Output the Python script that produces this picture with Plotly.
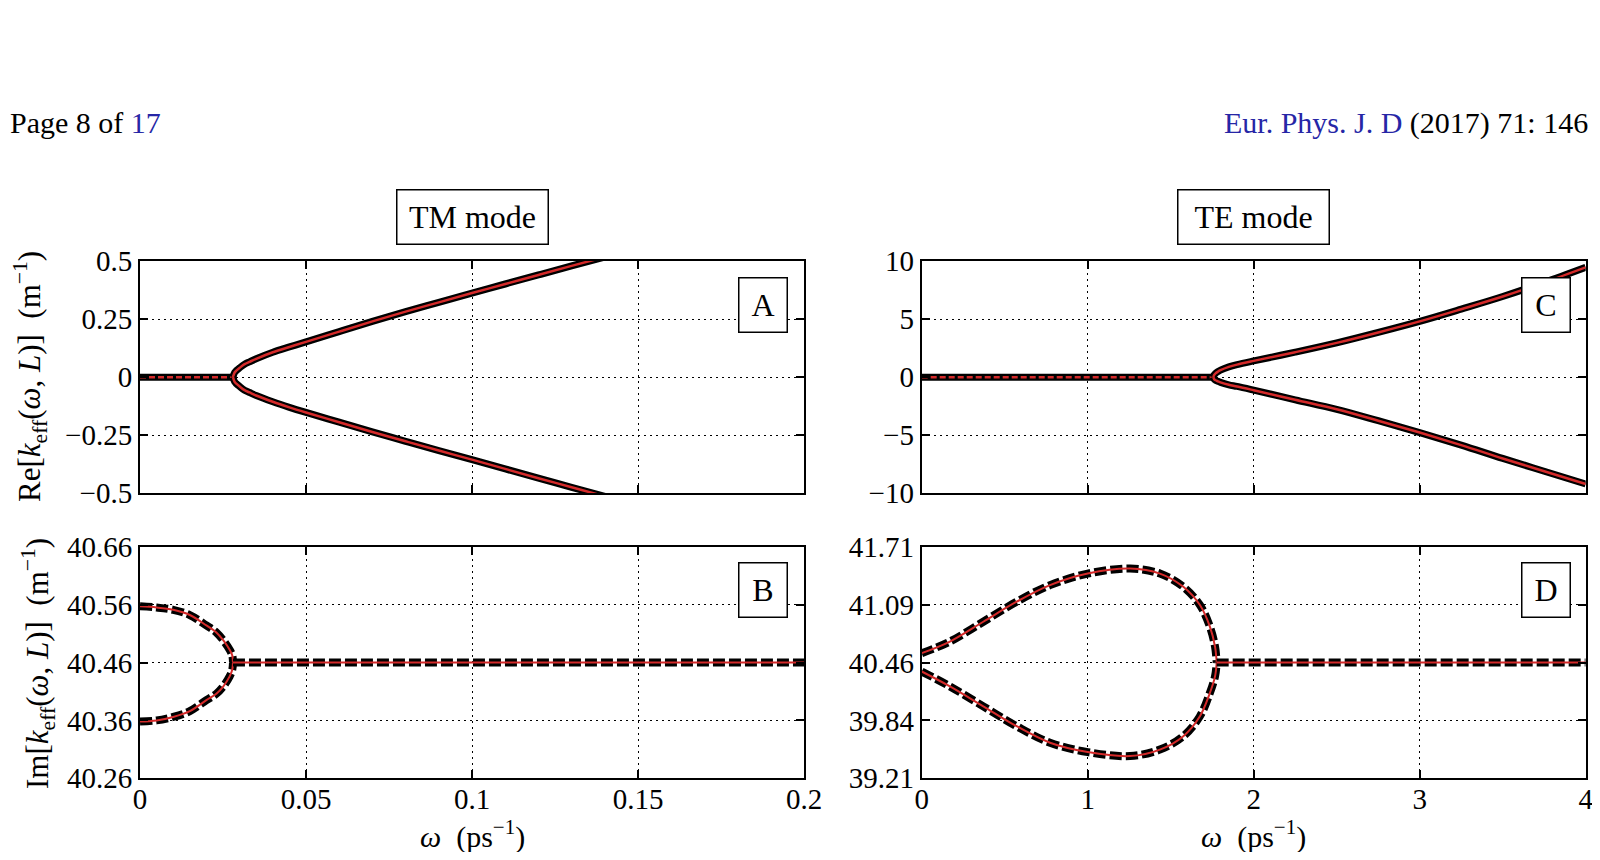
import plotly.graph_objects as go

# ---- data ----
# TM mode, panel A: Re[k_eff] (branches start at the split point)
tm_split = 0.028
tm_flat_w = [0.0, tm_split]
tm_flat_re = [0.0, 0.0]
tm_re_w = [0.028, 0.0285, 0.029, 0.030, 0.0315, 0.033, 0.035, 0.040, 0.045, 0.050,
           0.060, 0.070, 0.080, 0.090, 0.100, 0.110, 0.120, 0.130, 0.140]
tm_re_up = [0.0, 0.020, 0.028, 0.040, 0.056, 0.066, 0.079, 0.107, 0.130, 0.152,
            0.196, 0.240, 0.282, 0.322, 0.362, 0.401, 0.440, 0.479, 0.517]
tm_re_lo = [0.0, -0.020, -0.028, -0.040, -0.056, -0.066, -0.079, -0.106, -0.130, -0.152,
            -0.194, -0.236, -0.276, -0.316, -0.355, -0.395, -0.435, -0.474, -0.513]

# TM mode, panel B: Im[k_eff]
tm_im_w = [0.0, 0.005, 0.010, 0.015, 0.020, 0.023, 0.025, 0.027, 0.0278, 0.028]
tm_im_up = [40.557, 40.555, 40.551, 40.542, 40.524, 40.512, 40.499, 40.482, 40.472, 40.46]
tm_im_lo = [40.358, 40.360, 40.366, 40.376, 40.395, 40.406, 40.418, 40.436, 40.448, 40.46]
tm_im_flat_w = [0.028, 0.2]
tm_im_flat = [40.46, 40.46]

# TE mode, panel C: Re[k_eff]
te_split = 1.757
te_flat_w = [0.0, te_split]
te_flat_re = [0.0, 0.0]
te_re_w = [1.757, 1.762, 1.77, 1.785, 1.80, 1.85, 1.90, 2.00, 2.25, 2.50,
           2.75, 3.00, 3.25, 3.50, 3.75, 4.00]
te_re_up = [0.0, 0.20, 0.33, 0.48, 0.60, 0.88, 1.08, 1.40, 2.15, 2.95,
            3.85, 4.80, 5.85, 6.94, 8.15, 9.45]
te_re_lo = [0.0, -0.18, -0.27, -0.36, -0.45, -0.66, -0.80, -1.12, -1.95, -2.77,
            -3.75, -4.77, -5.85, -7.00, -8.10, -9.20]

# TE mode, panel D: Im[k_eff]
te_im_w = [0.0, 0.170, 0.371, 0.572, 0.773, 1.000, 1.255, 1.435, 1.576, 1.676,
           1.736, 1.767, 1.777]
te_im_up = [40.561, 40.686, 40.900, 41.116, 41.295, 41.420, 41.474, 41.420, 41.277, 41.080,
            40.847, 40.632, 40.46]
te_im_lo = [40.363, 40.202, 39.987, 39.772, 39.594, 39.493, 39.450, 39.520, 39.665, 39.880,
            40.131, 40.310, 40.46]
te_im_flat_w = [1.777, 4.0]
te_im_flat = [40.46, 40.46]

# ticks
tm_xticks = [0, 0.05, 0.1, 0.15, 0.2]
tm_xtext = ["0", "0.05", "0.1", "0.15", "0.2"]
te_xticks = [0, 1, 2, 3, 4]
te_xtext = ["0", "1", "2", "3", "4"]
a_yticks = [-0.5, -0.25, 0, 0.25, 0.5]
a_ytext = ["\u22120.5", "\u22120.25", "0", "0.25", "0.5"]
b_yticks = [40.26, 40.36, 40.46, 40.56, 40.66]
b_ytext = ["40.26", "40.36", "40.46", "40.56", "40.66"]
c_yticks = [-10, -5, 0, 5, 10]
c_ytext = ["\u221210", "\u22125", "0", "5", "10"]
d_yticks = [39.21, 39.835, 40.46, 41.085, 41.71]
d_ytext = ["39.21", "39.84", "40.46", "41.09", "41.71"]

# page body has an 8px margin, so the figure is 16px smaller than the window
OFF = 8
W, H = 1600 - 2 * OFF, 860 - 2 * OFF
SERIF = "Liberation Serif, Times New Roman, serif"
RED = "#d42a2a"
BLUE = "#2626a6"


def fx(px):
    return (px - OFF) / W


def fy(py):
    return 1 - (py - OFF) / H


fig = go.Figure()


def solid_pair(x, y, ax, red_dash="solid", spline=True):
    shape = "spline" if spline else "linear"
    fig.add_trace(go.Scatter(x=x, y=y, mode="lines", xaxis="x" + ax, yaxis="y" + ax,
                             line=dict(color="black", width=7, shape=shape),
                             hoverinfo="skip", showlegend=False))
    fig.add_trace(go.Scatter(x=x, y=y, mode="lines", xaxis="x" + ax, yaxis="y" + ax,
                             line=dict(color=RED, width=2.5, dash=red_dash, shape=shape),
                             hoverinfo="skip", showlegend=False))


def dashed_pair(x, y, ax, spline=True):
    shape = "spline" if spline else "linear"
    fig.add_trace(go.Scatter(x=x, y=y, mode="lines", xaxis="x" + ax, yaxis="y" + ax,
                             line=dict(color="black", width=8, dash="12px,4px", shape=shape),
                             hoverinfo="skip", showlegend=False))
    fig.add_trace(go.Scatter(x=x, y=y, mode="lines", xaxis="x" + ax, yaxis="y" + ax,
                             line=dict(color=RED, width=2, shape=shape),
                             hoverinfo="skip", showlegend=False))


# panel A
solid_pair(tm_flat_w, tm_flat_re, "", red_dash="6px,3px", spline=False)
solid_pair(tm_re_w, tm_re_up, "")
solid_pair(tm_re_w, tm_re_lo, "")
# panel B
dashed_pair(tm_im_w, tm_im_up, "2")
dashed_pair(tm_im_w, tm_im_lo, "2")
dashed_pair(tm_im_flat_w, tm_im_flat, "2", spline=False)
# panel C
solid_pair(te_flat_w, te_flat_re, "3", red_dash="6px,3px", spline=False)
solid_pair(te_re_w, te_re_up, "3")
solid_pair(te_re_w, te_re_lo, "3")
# panel D
dashed_pair(te_im_w, te_im_up, "4")
dashed_pair(te_im_w, te_im_lo, "4")
dashed_pair(te_im_flat_w, te_im_flat, "4", spline=False)


def axis(domain, rng, vals, text, anchor, labels=True, standoff=0):
    return dict(domain=domain, range=rng, tickvals=vals, ticktext=text,
                showticklabels=labels, anchor=anchor, automargin=False,
                ticklabeloverflow="allow", ticklabelstandoff=standoff,
                ticks="inside", ticklen=8, tickwidth=1.5, tickcolor="black",
                showline=True, linecolor="black", linewidth=2, mirror="allticks",
                showgrid=True, gridcolor="black", gridwidth=1, griddash="2px,4px",
                zeroline=False, fixedrange=True,
                tickfont=dict(family=SERIF, size=29, color="black"))


xl = [fx(140), fx(804)]
xr = [fx(921.7), fx(1585.7)]
yt = [fy(493.3), fy(261)]
yb = [fy(778.3), fy(546.7)]

fig.update_layout(
    width=W, height=H,
    margin=dict(l=0, r=0, t=0, b=0, autoexpand=False),
    paper_bgcolor="white", plot_bgcolor="white",
    showlegend=False,
    xaxis=axis(xl, [0, 0.2], tm_xticks, tm_xtext, "y", labels=False),
    yaxis=axis(yt, [-0.5, 0.5], a_yticks, a_ytext, "x"),
    xaxis2=axis(xl, [0, 0.2], tm_xticks, tm_xtext, "y2", standoff=-6),
    yaxis2=axis(yb, [40.26, 40.66], b_yticks, b_ytext, "x2"),
    xaxis3=axis(xr, [0, 4], te_xticks, te_xtext, "y3", labels=False),
    yaxis3=axis(yt, [-10, 10], c_yticks, c_ytext, "x3"),
    xaxis4=axis(xr, [0, 4], te_xticks, te_xtext, "y4", standoff=-6),
    yaxis4=axis(yb, [39.21, 41.71], d_yticks, d_ytext, "x4"),
)

ann = []


def text(x, y, s, size, **kw):
    d = dict(x=fx(x), y=fy(y), xref="paper", yref="paper", text=s, showarrow=False,
             xanchor="center", yanchor="middle",
             font=dict(family=SERIF, size=size, color="black"))
    d.update(kw)
    ann.append(d)


# page header
text(8, 123, "Page 8 of <span style='color:%s'>17</span>" % BLUE, 30, xanchor="left")
text(1590, 123, "<span style='color:%s'>Eur. Phys. J. D</span> (2017) 71: 146" % BLUE, 30,
     xanchor="right")

# mode boxes
for cx, s in [(472, "TM mode"), (1253.7, "TE mode")]:
    text(cx, 217.5, s, 32, bordercolor="black", borderwidth=1.5, borderpad=0,
         bgcolor="white", width=150, height=53)

# panel letters
for cx, cy, s in [(763.3, 304.7, "A"), (763.3, 590.4, "B"),
                  (1545.5, 304.7, "C"), (1545.5, 590.4, "D")]:
    text(cx, cy, s, 32, bordercolor="black", borderwidth=1.5, borderpad=0,
         bgcolor="white", width=47, height=53)

# axis titles
text(30, 377, "Re[<i>k</i><sub>eff</sub>(<i>ω</i>, <i>L</i>)]  (m<sup>−1</sup>)", 31,
     textangle=-90)
text(38, 664, "Im[<i>k</i><sub>eff</sub>(<i>ω</i>, <i>L</i>)]  (m<sup>−1</sup>)", 31,
     textangle=-90)
text(472, 834, "<i>ω</i>  (ps<sup>−1</sup>)", 30)
text(1253.7, 834, "<i>ω</i>  (ps<sup>−1</sup>)", 30)

fig.update_layout(annotations=ann)

fig.write_html("out.html")
